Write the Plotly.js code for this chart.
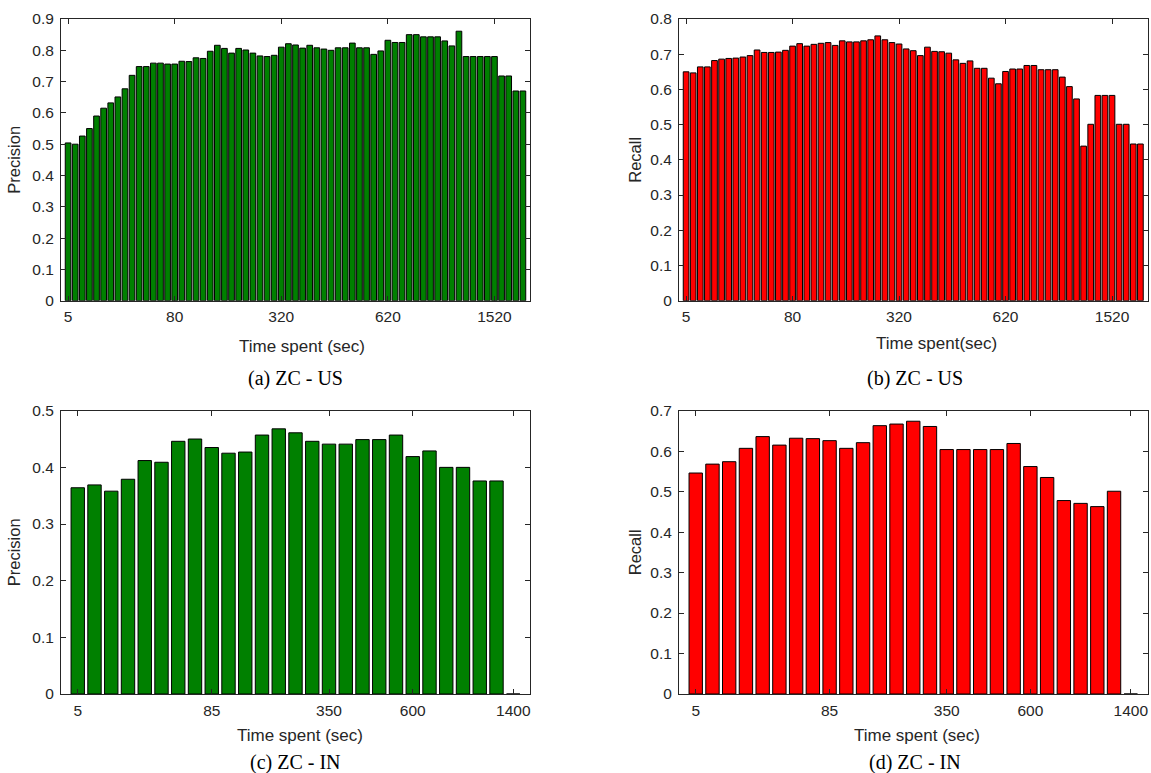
<!DOCTYPE html>
<html>
<head>
<meta charset="utf-8">
<script src="https://cdn.plot.ly/plotly-3.0.1.min.js"></script>
<style>html,body{margin:0;padding:0;background:#fff;}#chart{width:1151px;height:773px;}</style>
</head>
<body>
<div id="chart"></div>
<script>
// ---- data ----
var precisionUS = [0.504, 0.500, 0.526, 0.550, 0.590, 0.615, 0.632, 0.651, 0.677, 0.720,
  0.748, 0.748, 0.759, 0.759, 0.756, 0.756, 0.765, 0.764, 0.776, 0.774,
  0.797, 0.816, 0.806, 0.791, 0.806, 0.801, 0.791, 0.782, 0.780, 0.784,
  0.810, 0.821, 0.817, 0.807, 0.816, 0.808, 0.804, 0.800, 0.808, 0.808,
  0.823, 0.808, 0.808, 0.787, 0.798, 0.832, 0.825, 0.825, 0.850, 0.850,
  0.843, 0.843, 0.843, 0.830, 0.814, 0.861, 0.780, 0.780, 0.780, 0.780,
  0.780, 0.718, 0.718, 0.670, 0.670];
var recallUS = [0.650, 0.647, 0.664, 0.664, 0.682, 0.686, 0.688, 0.689, 0.692, 0.696,
  0.712, 0.705, 0.705, 0.706, 0.711, 0.723, 0.730, 0.723, 0.728, 0.731,
  0.733, 0.725, 0.738, 0.735, 0.735, 0.738, 0.741, 0.752, 0.741, 0.733,
  0.729, 0.715, 0.710, 0.696, 0.720, 0.708, 0.707, 0.703, 0.684, 0.674,
  0.681, 0.660, 0.660, 0.632, 0.616, 0.651, 0.658, 0.658, 0.668, 0.668,
  0.656, 0.656, 0.656, 0.635, 0.608, 0.573, 0.439, 0.501, 0.583, 0.583,
  0.583, 0.501, 0.501, 0.445, 0.445];
var precisionIN = [0.364, 0.369, 0.358, 0.379, 0.412, 0.409, 0.446, 0.450, 0.435, 0.425,
  0.427, 0.457, 0.468, 0.461, 0.446, 0.441, 0.441, 0.449, 0.449, 0.457,
  0.419, 0.429, 0.400, 0.400, 0.376, 0.376, 0];
var recallIN = [0.546, 0.568, 0.574, 0.607, 0.636, 0.615, 0.632, 0.631, 0.626, 0.607,
  0.621, 0.663, 0.667, 0.674, 0.661, 0.604, 0.604, 0.604, 0.604, 0.619,
  0.562, 0.535, 0.478, 0.471, 0.463, 0.501, 0];

var tickPosUS = [0, 15, 30, 45, 60];
var tickTextUS = ["5", "80", "320", "620", "1520"];
var tickPosIN = [0, 8, 15, 20, 26];
var tickTextIN = ["5", "85", "350", "600", "1400"];

var captions = ["(a) ZC - US", "(b) ZC - US", "(c) ZC - IN", "(d) ZC - IN"];
var xTitles = ["Time spent (sec)", "Time spent(sec)", "Time spent (sec)", "Time spent (sec)"];
var yTitles = ["Precision", "Recall", "Precision", "Recall"];

// ---- build ----
function idx(arr){ return arr.map(function(_, i){ return i; }); }
var GREEN = "#008000", RED = "#ff0000";
function barTrace(vals, color, n){
  var s = n === 1 ? "" : String(n);
  return {type: "bar", x: idx(vals), y: vals, xaxis: "x" + s, yaxis: "y" + s,
    marker: {color: color, line: {color: "#000000", width: 1}},
    hoverinfo: "x+y", showlegend: false};
}
var traces = [
  barTrace(precisionUS, GREEN, 1),
  barTrace(recallUS, RED, 2),
  barTrace(precisionIN, GREEN, 3),
  barTrace(recallIN, RED, 4)
];

var W = 1151, H = 773;
function xd(l, r){ return [l / W, r / W]; }
function yd(t, b){ return [1 - b / H, 1 - t / H]; }
var AX = "#262626";
var FONT = "Liberation Sans, Arial, Helvetica, sans-serif";
function xAxis(dom, anchor, range, tv, tt){
  return {domain: dom, anchor: anchor, range: range, tickmode: "array", tickvals: tv, ticktext: tt,
    showline: true, linecolor: AX, linewidth: 1, mirror: "ticks", ticks: "inside", ticklen: 5,
    tickcolor: AX, tickfont: {family: FONT, size: 15.5, color: AX}, showgrid: false, zeroline: false,
    fixedrange: true, ticklabelstandoff: 2};
}
function yAxis(dom, anchor, max, title, standoff){
  return {domain: dom, anchor: anchor, range: [0, max], dtick: 0.1, tick0: 0,
    showline: true, linecolor: AX, linewidth: 1, mirror: "ticks", ticks: "inside", ticklen: 5,
    tickcolor: AX, tickfont: {family: FONT, size: 15.5, color: AX}, showgrid: false, zeroline: false,
    fixedrange: true, ticklabelstandoff: 3,
    title: {text: title, font: {family: FONT, size: 16.5, color: AX}, standoff: standoff}};
}
var topY = yd(19, 300.7), botY = yd(410.7, 694);
var leftX = xd(61, 530), rightX = xd(679, 1147.5);

// text placements (pixel centres)
var xTitlePos = [[302, 346], [936, 343], [300, 735], [917, 735]];
var captionPos = [[295.5, 378], [915, 378], [295.5, 762], [915, 762]];

var annotations = [];
xTitles.forEach(function(t, i){
  annotations.push({text: t, x: xTitlePos[i][0] / W, y: 1 - xTitlePos[i][1] / H,
    xref: "paper", yref: "paper", xanchor: "center", yanchor: "middle", showarrow: false,
    font: {family: FONT, size: 17, color: AX}});
});
captions.forEach(function(t, i){
  annotations.push({text: t, x: captionPos[i][0] / W, y: 1 - captionPos[i][1] / H,
    xref: "paper", yref: "paper", xanchor: "center", yanchor: "middle", showarrow: false,
    font: {family: "Liberation Serif, Times New Roman, serif", size: 20, color: "#000000"}});
});

var layout = {
  width: W, height: H, margin: {l: 0, r: 0, t: 0, b: 0},
  paper_bgcolor: "#ffffff", plot_bgcolor: "#ffffff",
  bargap: 0.2, showlegend: false,
  xaxis: xAxis(leftX, "y", [-1, 65], tickPosUS, tickTextUS),
  yaxis: yAxis(topY, "x", 0.9, yTitles[0], 7),
  xaxis2: xAxis(rightX, "y2", [-1, 65], tickPosUS, tickTextUS),
  yaxis2: yAxis(topY, "x2", 0.8, yTitles[1], 4),
  xaxis3: xAxis(leftX, "y3", [-1, 27], tickPosIN, tickTextIN),
  yaxis3: yAxis(botY, "x3", 0.5, yTitles[2], 7),
  xaxis4: xAxis(rightX, "y4", [-1, 27], tickPosIN, tickTextIN),
  yaxis4: yAxis(botY, "x4", 0.7, yTitles[3], 4),
  annotations: annotations
};

Plotly.newPlot("chart", traces, layout, {displayModeBar: false, responsive: false});
</script>
</body>
</html>
